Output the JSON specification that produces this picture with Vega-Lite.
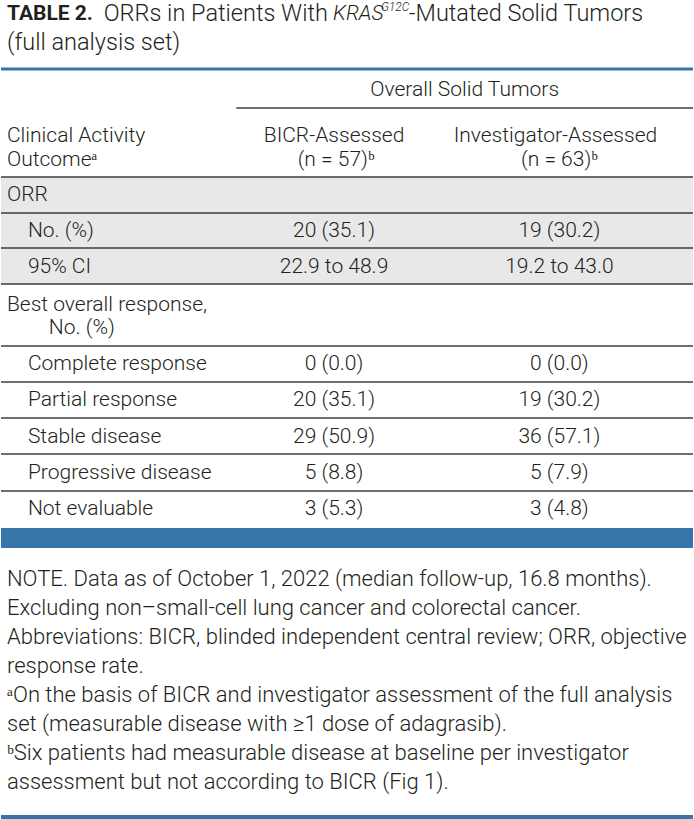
{
  "$schema": "https://vega.github.io/schema/vega-lite/v6.json",
  "width": 694,
  "height": 819,
  "padding": 0,
  "autosize": {"type": "fit", "contains": "padding"},
  "background": "white",
  "config": {"view": {"stroke": null}, "text": {"font": "Roboto", "color": "#231f20"}},
  "datasets": {
    "boxes": [
      {"kind": "blue", "x": 0, "x2": 694, "y": 67.5, "y2": 70.5},
      {"kind": "shade", "x": 0, "x2": 694, "y": 177, "y2": 284},
      {"kind": "blue", "x": 0, "x2": 694, "y": 528, "y2": 548},
      {"kind": "blue", "x": 0, "x2": 694, "y": 815, "y2": 819}
    ],
    "rules": [
      {"x": 236, "x2": 694, "y": 108},
      {"x": 0, "x2": 694, "y": 177},
      {"x": 0, "x2": 694, "y": 213},
      {"x": 0, "x2": 694, "y": 248},
      {"x": 0, "x2": 694, "y": 284},
      {"x": 0, "x2": 694, "y": 346},
      {"x": 0, "x2": 694, "y": 382},
      {"x": 0, "x2": 694, "y": 418},
      {"x": 0, "x2": 694, "y": 454},
      {"x": 0, "x2": 694, "y": 491}
    ],
    "labels": [
      {"text": "Clinical Activity", "x": 6, "y": 136},
      {"text": "Outcomeᵃ", "x": 6, "y": 160},
      {"text": "ORR", "x": 6, "y": 195},
      {"text": "No. (%)", "x": 27, "y": 231},
      {"text": "95% CI", "x": 27, "y": 267},
      {"text": "Best overall response,", "x": 6, "y": 305},
      {"text": "No. (%)", "x": 48, "y": 328},
      {"text": "Complete response", "x": 27, "y": 364},
      {"text": "Partial response", "x": 27, "y": 400},
      {"text": "Stable disease", "x": 27, "y": 437},
      {"text": "Progressive disease", "x": 27, "y": 473},
      {"text": "Not evaluable", "x": 27, "y": 509}
    ],
    "cells": [
      {"text": "Overall Solid Tumors", "x": 465, "y": 90},
      {"text": "BICR-Assessed", "x": 334, "y": 136},
      {"text": "(n = 57)ᵇ", "x": 336, "y": 160},
      {"text": "Investigator-Assessed", "x": 556, "y": 136},
      {"text": "(n = 63)ᵇ", "x": 560, "y": 160},
      {"text": "20 (35.1)", "x": 334, "y": 231},
      {"text": "19 (30.2)", "x": 560, "y": 231},
      {"text": "22.9 to 48.9", "x": 334, "y": 267},
      {"text": "19.2 to 43.0", "x": 560, "y": 267},
      {"text": "0 (0.0)", "x": 334, "y": 364},
      {"text": "0 (0.0)", "x": 560, "y": 364},
      {"text": "20 (35.1)", "x": 334, "y": 400},
      {"text": "19 (30.2)", "x": 560, "y": 400},
      {"text": "29 (50.9)", "x": 334, "y": 437},
      {"text": "36 (57.1)", "x": 560, "y": 437},
      {"text": "5 (8.8)", "x": 334, "y": 473},
      {"text": "5 (7.9)", "x": 560, "y": 473},
      {"text": "3 (5.3)", "x": 334, "y": 509},
      {"text": "3 (4.8)", "x": 560, "y": 509}
    ],
    "titleBold": [{"text": "TABLE 2.", "x": 6, "y": 14}],
    "titleReg": [
      {"text": "ORRs in Patients With", "x": 103, "y": 14},
      {"text": "-Mutated Solid Tumors", "x": 409, "y": 14},
      {"text": "(full analysis set)", "x": 6, "y": 43}
    ],
    "titleItal": [{"text": "KRAS", "x": 333, "y": 14}],
    "titleSup": [{"text": "G12C", "x": 381, "y": 7}],
    "notes": [
      {"text": "NOTE. Data as of October 1, 2022 (median follow-up, 16.8 months).", "x": 6, "y": 579},
      {"text": "Excluding non–small-cell lung cancer and colorectal cancer.", "x": 6, "y": 608},
      {"text": "Abbreviations: BICR, blinded independent central review; ORR, objective", "x": 6, "y": 637},
      {"text": "response rate.", "x": 6, "y": 666},
      {"text": "ᵃOn the basis of BICR and investigator assessment of the full analysis", "x": 6, "y": 695},
      {"text": "set (measurable disease with ≥1 dose of adagrasib).", "x": 6, "y": 724},
      {"text": "ᵇSix patients had measurable disease at baseline per investigator", "x": 6, "y": 753},
      {"text": "assessment but not according to BICR (Fig 1).", "x": 6, "y": 782}
    ]
  },
  "layer": [
    {
      "data": {"name": "boxes"},
      "mark": {"type": "rect"},
      "encoding": {
        "x": {"field": "x", "type": "quantitative", "scale": {"domain": [0, 694], "nice": false, "zero": false}, "axis": null},
        "x2": {"field": "x2"},
        "y": {"field": "y", "type": "quantitative", "scale": {"domain": [0, 819], "nice": false, "zero": false, "reverse": true}, "axis": null},
        "y2": {"field": "y2"},
        "color": {"field": "kind", "type": "nominal", "scale": {"domain": ["shade", "blue"], "range": ["#e8e8e8", "#3674aa"]}, "legend": null}
      }
    },
    {
      "data": {"name": "rules"},
      "mark": {"type": "rule", "color": "#3c3c3c", "strokeWidth": 1.5},
      "encoding": {
        "x": {"field": "x", "type": "quantitative", "axis": null},
        "x2": {"field": "x2"},
        "y": {"field": "y", "type": "quantitative", "axis": null}
      }
    },
    {
      "data": {"name": "labels"},
      "mark": {"type": "text", "align": "left", "baseline": "middle", "fontSize": 21, "fontWeight": 300},
      "encoding": {
        "x": {"field": "x", "type": "quantitative", "axis": null},
        "y": {"field": "y", "type": "quantitative", "axis": null},
        "text": {"field": "text"}
      }
    },
    {
      "data": {"name": "cells"},
      "mark": {"type": "text", "align": "center", "baseline": "middle", "fontSize": 21, "fontWeight": 300},
      "encoding": {
        "x": {"field": "x", "type": "quantitative", "axis": null},
        "y": {"field": "y", "type": "quantitative", "axis": null},
        "text": {"field": "text"}
      }
    },
    {
      "data": {"name": "titleBold"},
      "mark": {"type": "text", "align": "left", "baseline": "middle", "fontSize": 21, "fontWeight": "bold"},
      "encoding": {
        "x": {"field": "x", "type": "quantitative", "axis": null},
        "y": {"field": "y", "type": "quantitative", "axis": null},
        "text": {"field": "text"}
      }
    },
    {
      "data": {"name": "titleReg"},
      "mark": {"type": "text", "align": "left", "baseline": "middle", "fontSize": 23.5, "fontWeight": 300},
      "encoding": {
        "x": {"field": "x", "type": "quantitative", "axis": null},
        "y": {"field": "y", "type": "quantitative", "axis": null},
        "text": {"field": "text"}
      }
    },
    {
      "data": {"name": "titleItal"},
      "mark": {"type": "text", "align": "left", "baseline": "middle", "fontSize": 21, "fontWeight": 300, "fontStyle": "italic"},
      "encoding": {
        "x": {"field": "x", "type": "quantitative", "axis": null},
        "y": {"field": "y", "type": "quantitative", "axis": null},
        "text": {"field": "text"}
      }
    },
    {
      "data": {"name": "titleSup"},
      "mark": {"type": "text", "align": "left", "baseline": "middle", "fontSize": 12, "fontWeight": 300, "fontStyle": "italic"},
      "encoding": {
        "x": {"field": "x", "type": "quantitative", "axis": null},
        "y": {"field": "y", "type": "quantitative", "axis": null},
        "text": {"field": "text"}
      }
    },
    {
      "data": {"name": "notes"},
      "mark": {"type": "text", "align": "left", "baseline": "middle", "fontSize": 22, "fontWeight": 300},
      "encoding": {
        "x": {"field": "x", "type": "quantitative", "axis": null},
        "y": {"field": "y", "type": "quantitative", "axis": null},
        "text": {"field": "text"}
      }
    }
  ]
}
